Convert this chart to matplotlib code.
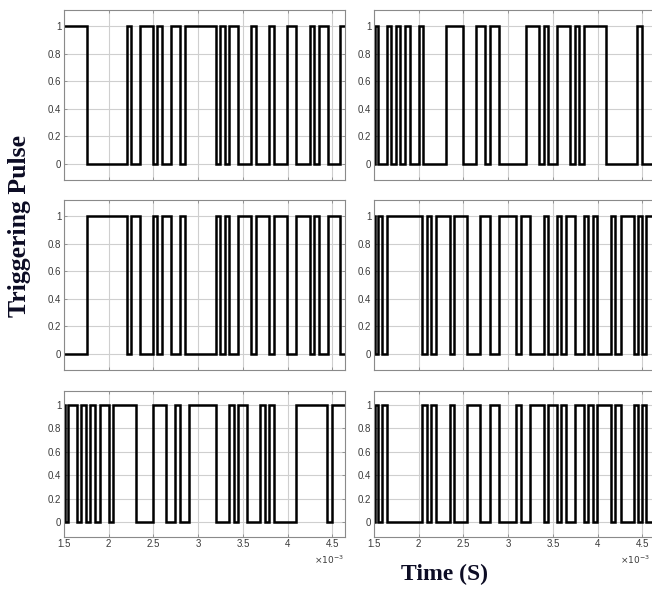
import matplotlib
matplotlib.use("Agg")
import matplotlib.pyplot as plt

# ---- data (time in ms, i.e. x 10^-3 s) ----
t_start = 1.5
t_end = 4.64

edges_top_left = [1.754, 2.201, 2.254, 2.351, 2.493, 2.537, 2.593, 2.694, 2.799, 2.847,
                  3.194, 3.246, 3.299, 3.347, 3.444, 3.593, 3.642, 3.791, 3.843, 3.996,
                  4.090, 4.246, 4.299, 4.347, 4.448, 4.582]
init_top_left = 1

edges_top_right = [1.508, 1.545, 1.643, 1.690, 1.744, 1.795, 1.849, 1.899, 1.998, 2.045,
                   2.300, 2.497, 2.641, 2.743, 2.795, 2.896, 3.195, 3.348, 3.397, 3.447,
                   3.542, 3.692, 3.742, 3.793, 3.845, 4.092, 4.443, 4.497]
init_top_right = 0

edges_mid_left = [1.754, 2.201, 2.254, 2.351, 2.493, 2.537, 2.593, 2.694, 2.799, 2.847,
                  3.194, 3.246, 3.299, 3.347, 3.444, 3.593, 3.642, 3.791, 3.843, 3.996,
                  4.090, 4.246, 4.299, 4.347, 4.448, 4.582]
init_mid_left = 0

edges_mid_right = [1.508, 1.548, 1.593, 1.641, 2.041, 2.090, 2.142, 2.195, 2.345, 2.393,
                   2.539, 2.689, 2.795, 2.897, 3.088, 3.143, 3.246, 3.396, 3.448, 3.540,
                   3.594, 3.641, 3.744, 3.850, 3.895, 3.951, 3.996, 4.147, 4.195, 4.256,
                   4.402, 4.451, 4.496, 4.541]
init_mid_right = 1

edges_bot_left = [1.508, 1.545, 1.643, 1.690, 1.744, 1.795, 1.849, 1.899, 1.998, 2.045,
                  2.300, 2.497, 2.641, 2.743, 2.795, 2.896, 3.195, 3.348, 3.397, 3.447,
                  3.542, 3.692, 3.742, 3.793, 3.845, 4.092, 4.443, 4.497]
init_bot_left = 1

edges_bot_right = [1.508, 1.548, 1.593, 1.641, 2.041, 2.090, 2.142, 2.195, 2.345, 2.393,
                   2.539, 2.689, 2.795, 2.897, 3.088, 3.143, 3.246, 3.396, 3.448, 3.540,
                   3.594, 3.641, 3.744, 3.850, 3.895, 3.951, 3.996, 4.147, 4.195, 4.256,
                   4.402, 4.451, 4.496, 4.541]
init_bot_right = 0

x_ticks = [1.5, 2, 2.5, 3, 3.5, 4, 4.5]
x_tick_labels = ["1.5", "2", "2.5", "3", "3.5", "4", "4.5"]
y_ticks = [0, 0.2, 0.4, 0.6, 0.8, 1]
y_tick_labels = ["0", "0.2", "0.4", "0.6", "0.8", "1"]

panels = [
    (edges_top_left, init_top_left),
    (edges_top_right, init_top_right),
    (edges_mid_left, init_mid_left),
    (edges_mid_right, init_mid_right),
    (edges_bot_left, init_bot_left),
    (edges_bot_right, init_bot_right),
]

# ---- layout ----
W, H = 652, 590
fig = plt.figure(figsize=(W / 100, H / 100), dpi=100)

col_x = [64 / W, 374 / W]
col_w = 281 / W
rows = [(10, 180), (200, 370), (390.5, 536.5)]

tick_col = "#3a3a3a"
grid_col = "#cfcfcf"
spine_col = "#8a8a8a"
label_col = "#0c0c24"

for i, (edges, init) in enumerate(panels):
    r, c = divmod(i, 2)
    top, bot = rows[r]
    ax = fig.add_axes([col_x[c], 1 - bot / H, col_w, (bot - top) / H])

    times = [t_start] + list(edges) + [t_end]
    levels = []
    lev = init
    levels.append(lev)
    for _ in edges:
        lev = 1 - lev
        levels.append(lev)
    levels.append(lev)
    ax.step(times, levels, where="post", color="black", lw=1.8,
            solid_joinstyle="miter", clip_on=True)

    ax.set_xlim(1.5, 4.64)
    ax.set_ylim(-0.12, 1.12)
    ax.set_xticks(x_ticks)
    ax.set_yticks(y_ticks)
    ax.set_yticklabels(y_tick_labels)
    if r == 2:
        ax.set_xticklabels(x_tick_labels)
    else:
        ax.set_xticklabels([])
    ax.grid(True, color=grid_col, lw=0.8)
    ax.set_axisbelow(True)
    ax.tick_params(direction="in", length=2.5, width=0.6, colors=spine_col,
                   labelcolor=tick_col, labelsize=7, top=True, right=True, pad=2)
    for lbl in ax.get_xticklabels() + ax.get_yticklabels():
        lbl.set_family("Liberation Sans")
    for s in ax.spines.values():
        s.set_color(spine_col)
        s.set_linewidth(0.8)

# x10^-3 multipliers under the bottom row
fig.text(344 / W, 1 - 560 / H, r"$\times10^{-3}$", ha="right", va="center",
         fontsize=6.5, color=tick_col)
fig.text(650 / W, 1 - 560 / H, r"$\times10^{-3}$", ha="right", va="center",
         fontsize=6.5, color=tick_col)

fig.text(20 / W, 1 - 226 / H, "Triggering Pulse", rotation=90, ha="center", va="center",
         family="Liberation Serif", fontweight="bold", fontsize=18.5, color=label_col)
fig.text(445 / W, 1 - 574 / H, "Time (S)", ha="center", va="center",
         family="Liberation Serif", fontweight="bold", fontsize=17, color=label_col)

fig.savefig("out.png", dpi=100)
